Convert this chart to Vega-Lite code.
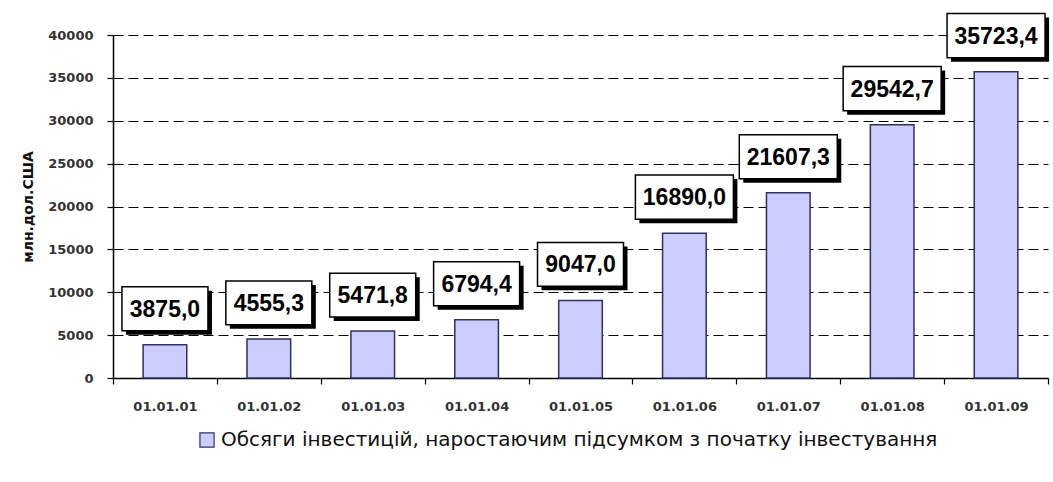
{
  "$schema": "https://vega.github.io/schema/vega-lite/v6.json",
  "width": 935,
  "height": 343,
  "autosize": {"type": "none"},
  "padding": {"left": 113, "top": 35, "right": 5, "bottom": 104},
  "background": "white",
  "config": {
    "view": {"stroke": null},
    "locale": {"number": {"decimal": ",", "thousands": "", "grouping": [3], "currency": ["", ""]}}
  },
  "data": {
    "values": [
      {"date": "01.01.01", "value": 3875.0},
      {"date": "01.01.02", "value": 4555.3},
      {"date": "01.01.03", "value": 5471.8},
      {"date": "01.01.04", "value": 6794.4},
      {"date": "01.01.05", "value": 9047.0},
      {"date": "01.01.06", "value": 16890.0},
      {"date": "01.01.07", "value": 21607.3},
      {"date": "01.01.08", "value": 29542.7},
      {"date": "01.01.09", "value": 35723.4}
    ]
  },
  "encoding": {
    "x": {
      "field": "date", "type": "nominal", "sort": null,
      "scale": {"paddingInner": 0, "paddingOuter": 0},
      "axis": {
        "title": null, "labelAngle": 0, "labelFont": "DejaVu Sans", "labelFontSize": 13, "labelFontWeight": "bold",
        "labelColor": "#333", "domainColor": "#000", "domainWidth": 1.5,
        "tickColor": "#000", "tickBand": "extent", "tickSize": 6, "tickWidth": 1.2,
        "labelPadding": 16, "grid": false
      }
    },
    "y": {
      "field": "value", "type": "quantitative",
      "scale": {"domain": [0, 40000], "nice": false},
      "axis": {
        "title": "млн.дол.США", "titleFont": "DejaVu Sans", "titleFontSize": 14, "titleFontWeight": "bold",
        "titleColor": "#111", "titlePadding": 12,
        "values": [0, 5000, 10000, 15000, 20000, 25000, 30000, 35000, 40000],
        "format": "d", "labelFont": "DejaVu Sans", "labelFontSize": 13, "labelFontWeight": "bold", "labelColor": "#333",
        "labelPadding": 14, "tickSize": 6, "tickColor": "#000", "tickWidth": 1.2,
        "domainColor": "#000", "domainWidth": 1.5,
        "grid": true, "gridColor": "#000", "gridDash": [10, 5], "gridWidth": 1.2
      }
    }
  },
  "layer": [
    {
      "mark": {"type": "bar", "width": {"band": 0.42}, "stroke": "#303060", "strokeWidth": 1.5},
      "encoding": {
        "color": {
          "datum": "Обсяги інвестицій, наростаючим підсумком з початку інвестування",
          "type": "nominal",
          "scale": {"range": ["#CCCCFF"]},
          "legend": {
            "title": null, "orient": "none", "legendX": 84, "legendY": 395,
            "symbolType": "square", "symbolSize": 200, "symbolStrokeColor": "#303060",
            "symbolStrokeWidth": 1.2, "labelFont": "DejaVu Sans", "labelFontSize": 20,
            "labelColor": "#111", "labelLimit": 1000
          }
        }
      }
    },
    {
      "transform": [{"filter": "datum.value < 10000"}],
      "mark": {"type": "point", "shape": "M-1,-0.51H1V0.51H-1Z", "size": 7396, "filled": true, "color": "#000", "opacity": 1, "xOffset": 4, "yOffset": -32}
    },
    {
      "transform": [{"filter": "datum.value < 10000"}],
      "mark": {"type": "point", "shape": "M-1,-0.51H1V0.51H-1Z", "size": 7396, "filled": true, "fill": "#fff", "stroke": "#000", "strokeWidth": 1.5, "opacity": 1, "yOffset": -36}
    },
    {
      "transform": [{"filter": "datum.value >= 10000"}],
      "mark": {"type": "point", "shape": "M-1,-0.45H1V0.45H-1Z", "size": 9604, "filled": true, "color": "#000", "opacity": 1, "xOffset": 4, "yOffset": -32}
    },
    {
      "transform": [{"filter": "datum.value >= 10000"}],
      "mark": {"type": "point", "shape": "M-1,-0.45H1V0.45H-1Z", "size": 9604, "filled": true, "fill": "#fff", "stroke": "#000", "strokeWidth": 1.5, "opacity": 1, "yOffset": -36}
    },
    {
      "mark": {"type": "text", "font": "Liberation Sans", "fontSize": 23, "fontWeight": "bold", "color": "#000", "baseline": "middle", "yOffset": -35},
      "encoding": {"text": {"field": "value", "type": "quantitative", "format": ".1f"}}
    }
  ]
}
